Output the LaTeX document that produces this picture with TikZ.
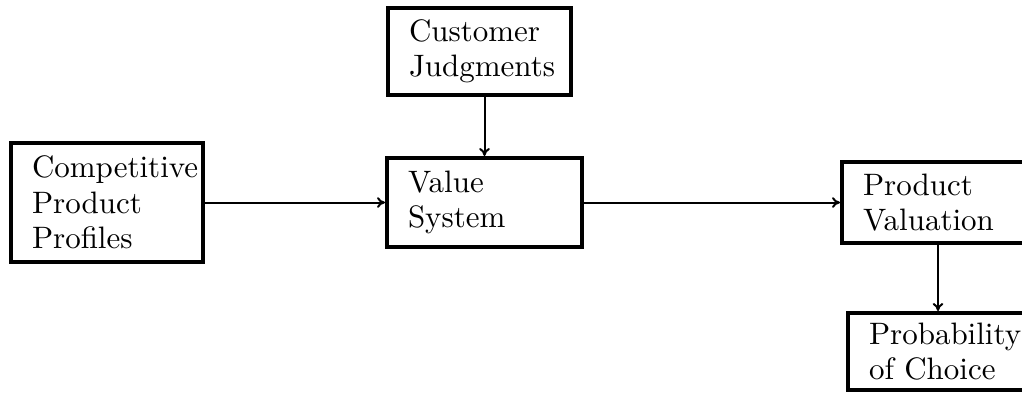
\documentclass[tikz,border=0pt]{standalone}
\usepackage{fontspec}
\usetikzlibrary{arrows.meta}
\newfontfamily\lmten{lmroman10-regular}[Extension=.otf]
\begin{document}
\begin{tikzpicture}[x=0.75pt,y=-0.75pt,
  box/.style={draw,line width=3pt,rectangle,inner xsep=0pt,inner ysep=0pt,align=left,
    font=\lmten\fontsize{23.25}{26.6}\selectfont},
  conn/.style={-{To[length=6pt,width=8pt]},line width=1.5pt}]
\useasboundingbox (0,0) rectangle (1022,394);
\begin{scope}
\clip (0,0) rectangle (1022,394);
\node[box,minimum width=144pt,minimum height=89.25pt,text width=112.5pt] (comp) at (107,202.5) {Competitive\\Product\\Profiles};
\node[box,minimum width=137.25pt,minimum height=65.25pt,text width=105.75pt] (cust) at (479.5,51.5) {Customer\\Judgments};
\node[box,minimum width=146.25pt,minimum height=66.75pt,text width=114.75pt] (val) at (484.5,202.5) {Value\\System};
\node[box,minimum width=144pt,minimum height=60.75pt,text width=112.5pt] (prod) at (938,202.5) {Product\\Valuation};
\node[box,minimum width=135pt,minimum height=57.75pt,text width=103.5pt] (prob) at (938,351.5) {Probability\\of Choice};
\draw[conn] (comp.east) -- (val.west);
\draw[conn] (val.east) -- (prod.west);
\draw[conn] (val.north |- cust.south) -- (val.north);
\draw[conn] (prod.south) -- (prob.north);
\end{scope}
\end{tikzpicture}
\end{document}
